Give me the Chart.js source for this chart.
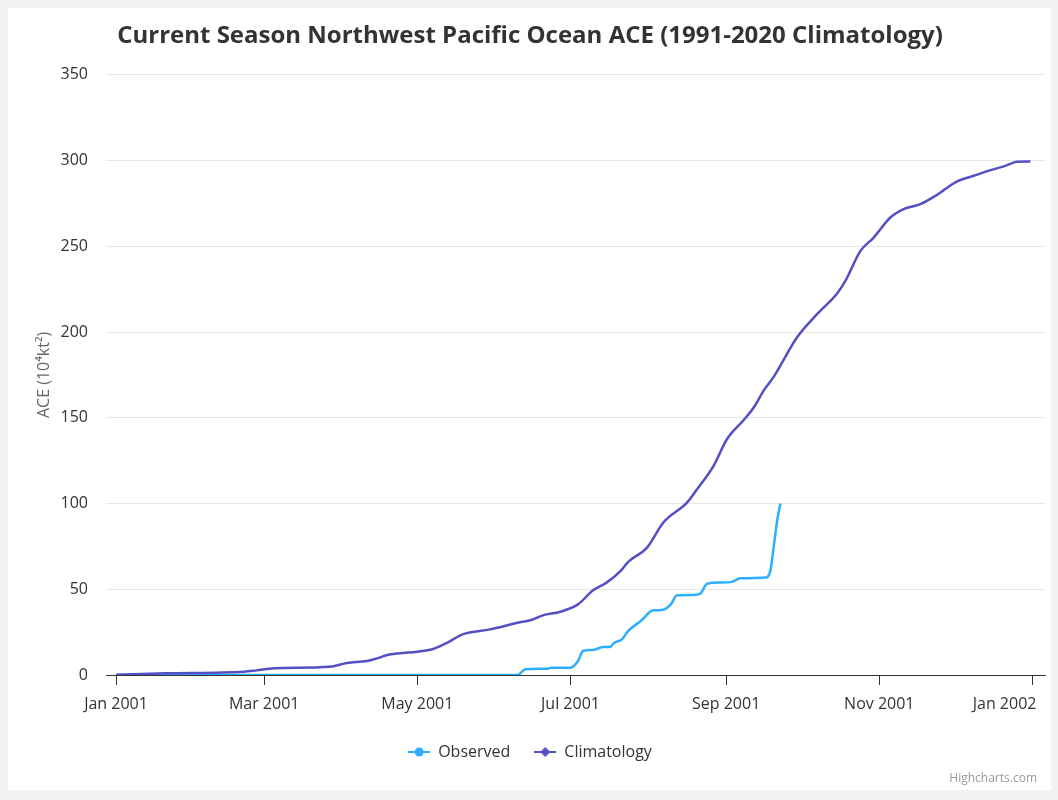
<!DOCTYPE html>
<html>
<head>
<meta charset="utf-8">
<title>Northwest Pacific ACE</title>
<script src="https://cdn.jsdelivr.net/npm/chart.js@4"></script>
<style>
  body { margin: 0; background: #f2f2f2; }
  #caja { position: absolute; left: 8px; top: 8px; width: 1043px; height: 782px; background: #fff; }
</style>
</head>
<body>
<div id="caja"><canvas id="grafica"></canvas></div>
<script>
// dias desde el 1 de enero de 2001
const diasObs = [0, 160, 163, 172, 173, 181, 184, 186, 190, 194, 197, 198, 201.5, 204, 209, 214, 217.4, 221, 223.4, 230, 232.7, 235.4, 240.7, 245.3, 248.6, 258.6, 260.6, 261.9, 263.3, 264.6];
const aceObs = [0, 0, 3.3, 3.7, 4.3, 4.3, 8.2, 14, 14.6, 16.3, 16.5, 18.3, 20.8, 25.7, 31.5, 37.7, 37.9, 41.2, 46.5, 46.7, 47.4, 53.2, 53.9, 54.3, 56.4, 56.8, 60.7, 74.3, 89.8, 100];

const diasClim = [0, 20, 51, 56, 63, 85, 92, 100, 104, 108, 113, 120, 126, 132, 138, 149, 160, 165, 170, 177, 184, 190, 195.5, 201, 204, 211.5, 218, 227.4, 231.4, 238, 243.3, 250, 254, 258, 262, 271.2, 279.2, 287.2, 290.5, 296.5, 301.8, 308.4, 313.7, 320.4, 327, 335, 341.6, 348.3, 354.2, 358.9, 364.2];
const aceClim = [0.2, 1.0, 1.9, 2.7, 3.9, 4.8, 7.0, 8.2, 9.7, 11.7, 12.7, 13.6, 15, 18.9, 23.7, 26.6, 30.5, 31.9, 34.8, 36.9, 41.2, 49.4, 54, 60.7, 66, 74.3, 88.9, 100.5, 108.3, 122, 137.5, 148.7, 156, 166, 174, 196.8, 210.4, 222.5, 229.8, 247.3, 255.1, 266.8, 271.7, 274.6, 280, 287.8, 291.1, 294.4, 296.9, 299.3, 299.4];

const diasTicks = [0, 59, 120, 181, 243, 304, 365];
const etiquetasTicks = ['Jan 2001', 'Mar 2001', 'May 2001', 'Jul 2001', 'Sep 2001', 'Nov 2001', 'Jan 2002'];
const nombres = ['Observed', 'Climatology'];
const colores = ['#2caffe', '#544fc5'];

const fuente = "'Open Sans', 'DejaVu Sans', sans-serif";
const ultimo = diasTicks.length - 1;

function puntos(dias, valores) {
  return dias.map((d, i) => ({ x: d, y: valores[i] }));
}

// marcador de la leyenda: linea con circulo o rombo
function marcador(color, tipo) {
  const c = document.createElement('canvas');
  c.width = 22; c.height = 12;
  const ctx = c.getContext('2d');
  ctx.strokeStyle = color; ctx.fillStyle = color; ctx.lineWidth = 2;
  ctx.beginPath(); ctx.moveTo(0, 6); ctx.lineTo(22, 6); ctx.stroke();
  ctx.beginPath();
  if (tipo == 'circulo') {
    ctx.arc(11, 6, 4.5, 0, Math.PI * 2);
  } else {
    ctx.moveTo(11, 1); ctx.lineTo(16, 6); ctx.lineTo(11, 11); ctx.lineTo(6, 6); ctx.closePath();
  }
  ctx.fill();
  return c;
}
const marcadores = [marcador(colores[0], 'circulo'), marcador(colores[1], 'rombo')];

// credito y ultima etiqueta del eje x (metida hacia dentro como en el original)
const extras = {
  id: 'extras',
  afterDraw(chart) {
    const ctx = chart.ctx;
    const ejeX = chart.scales.x;
    ctx.save();
    ctx.font = '16px ' + fuente;
    ctx.fillStyle = '#333333';
    ctx.textAlign = 'right';
    ctx.textBaseline = 'middle';
    ctx.fillText(etiquetasTicks[ultimo], ejeX.getPixelForValue(diasTicks[ultimo]) + 4, ejeX.top + 10 + 10 + 9.6);
    ctx.font = '12px ' + fuente;
    ctx.fillStyle = '#999999';
    ctx.textBaseline = 'alphabetic';
    ctx.fillText('Highcharts.com', chart.width - 14, chart.height - 8);
    ctx.restore();
  }
};

new Chart(document.getElementById('grafica'), {
  type: 'line',
  data: {
    datasets: [{
      label: nombres[0],
      data: puntos(diasObs, aceObs),
      borderColor: colores[0],
      backgroundColor: colores[0],
      borderWidth: 2.5,
      pointRadius: 0,
      cubicInterpolationMode: 'monotone',
      order: 1
    }, {
      label: nombres[1],
      data: puntos(diasClim, aceClim),
      borderColor: colores[1],
      backgroundColor: colores[1],
      borderWidth: 2.5,
      pointRadius: 0,
      cubicInterpolationMode: 'monotone',
      order: 0
    }]
  },
  options: {
    responsive: true,
    maintainAspectRatio: false,
    animation: false,
    layout: { padding: { left: 7, right: 6, top: 0, bottom: 20 } },
    plugins: {
      tooltip: { enabled: false },
      title: {
        display: true,
        text: 'Current Season Northwest Pacific Ocean ACE (1991-2020 Climatology)',
        color: '#333333',
        font: { family: fuente, size: 24, weight: 'bold' },
        padding: { top: 14, bottom: 24 }
      },
      legend: {
        position: 'bottom',
        labels: {
          color: '#333333',
          font: { family: fuente, size: 16 },
          usePointStyle: true,
          pointStyleWidth: 22,
          padding: 24,
          generateLabels: () => nombres.map((n, i) => ({
            text: n,
            pointStyle: marcadores[i],
            fillStyle: colores[i],
            strokeStyle: colores[i],
            fontColor: '#333333',
            lineWidth: 0,
            datasetIndex: i,
            hidden: false
          }))
        }
      }
    },
    scales: {
      x: {
        type: 'linear',
        min: -4,
        max: 370,
        afterBuildTicks: (eje) => { eje.ticks = diasTicks.map(v => ({ value: v })); },
        afterFit: (eje) => { eje.height = 45; eje.paddingRight = 0; },
        ticks: {
          color: '#333333',
          font: { family: fuente, size: 16 },
          padding: 10,
          maxRotation: 0,
          autoSkip: false,
          callback: (v) => {
            const i = diasTicks.indexOf(v);
            return i == ultimo ? '' : etiquetasTicks[i];
          }
        },
        grid: { drawOnChartArea: false, drawTicks: true, tickLength: 10, color: '#333333' },
        border: { color: '#333333', width: 1 }
      },
      y: {
        min: 0,
        max: 350,
        afterFit: (eje) => { eje.width = 91; },
        ticks: {
          stepSize: 50,
          color: '#333333',
          font: { family: fuente, size: 16 },
          padding: 18
        },
        grid: { color: '#e6e6e6', drawTicks: false },
        border: { display: false },
        title: {
          display: true,
          text: 'ACE (10⁴kt²)',
          color: '#666666',
          font: { family: fuente, size: 16 },
          padding: { top: 20, bottom: 8 }
        }
      }
    }
  },
  plugins: [extras]
});
</script>
</body>
</html>
